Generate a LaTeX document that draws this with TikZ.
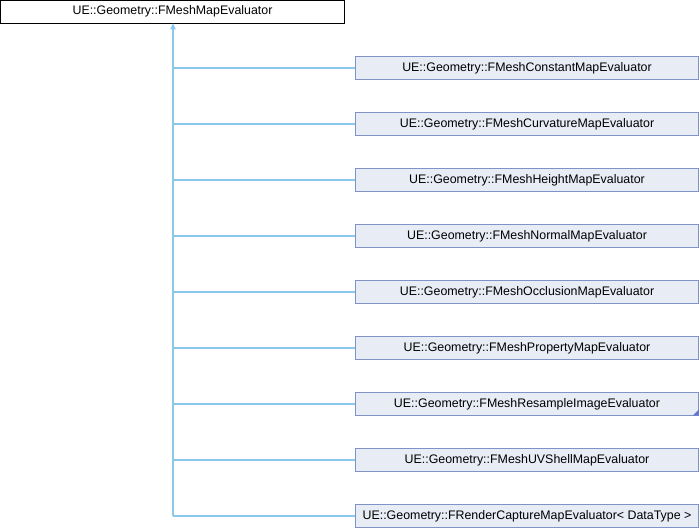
\documentclass[tikz,border=0pt]{standalone}
\usepackage{fontspec}
\setmainfont{Liberation Sans}
\usetikzlibrary{arrows.meta}
\definecolor{edgeblue}{HTML}{8CC8EA}
\definecolor{boxline}{HTML}{7F93C8}
\definecolor{boxfill}{HTML}{E8ECF5}
\tikzset{
  base/.style={draw=black, fill=white, inner sep=0pt, font=\fontsize{9.3pt}{10pt}\selectfont},
  child/.style={draw=boxline, fill=boxfill, inner sep=0pt, font=\fontsize{9.3pt}{10pt}\selectfont},
  inherit/.style={edgeblue, line width=0.8, -{Triangle[length=4.5pt, width=4pt]}}
}
\begin{document}
\begin{tikzpicture}[x=0.75pt, y=-0.75pt]
        \useasboundingbox (0,0) rectangle (700,528);
        %base class
        \node[base, minimum width=0.75*344, minimum height=0.75*23] (base) at (172.5, 11.5) {UE::Geometry::FMeshMapEvaluator};
        \coordinate (trunk) at (173, 516);

        %derived classes
        \foreach \name/\txt [count=\i] in {
            constant/FMeshConstantMapEvaluator,
            curvature/FMeshCurvatureMapEvaluator,
            height/FMeshHeightMapEvaluator,
            normal/FMeshNormalMapEvaluator,
            occlusion/FMeshOcclusionMapEvaluator,
            property/FMeshPropertyMapEvaluator,
            resample/FMeshResampleImageEvaluator,
            uvshell/FMeshUVShellMapEvaluator,
            capture/{FRenderCaptureMapEvaluator< DataType >}}
        {
            \node[child, minimum width=0.75*343, minimum height=0.75*22.5] (\name) at (527, 12+56*\i) {UE::Geometry::\txt};
            \draw[edgeblue, line width=0.8] (\name.west) -- (173, 12+56*\i);
        }

        %more children marker
        \fill[boxline!80!blue] (resample.south east) -- ++(0,-6) -- ++(-6,6) -- cycle;

        %inheritance
        \draw[inherit] (trunk) -- (base.south -| trunk);
\end{tikzpicture}
\end{document}
